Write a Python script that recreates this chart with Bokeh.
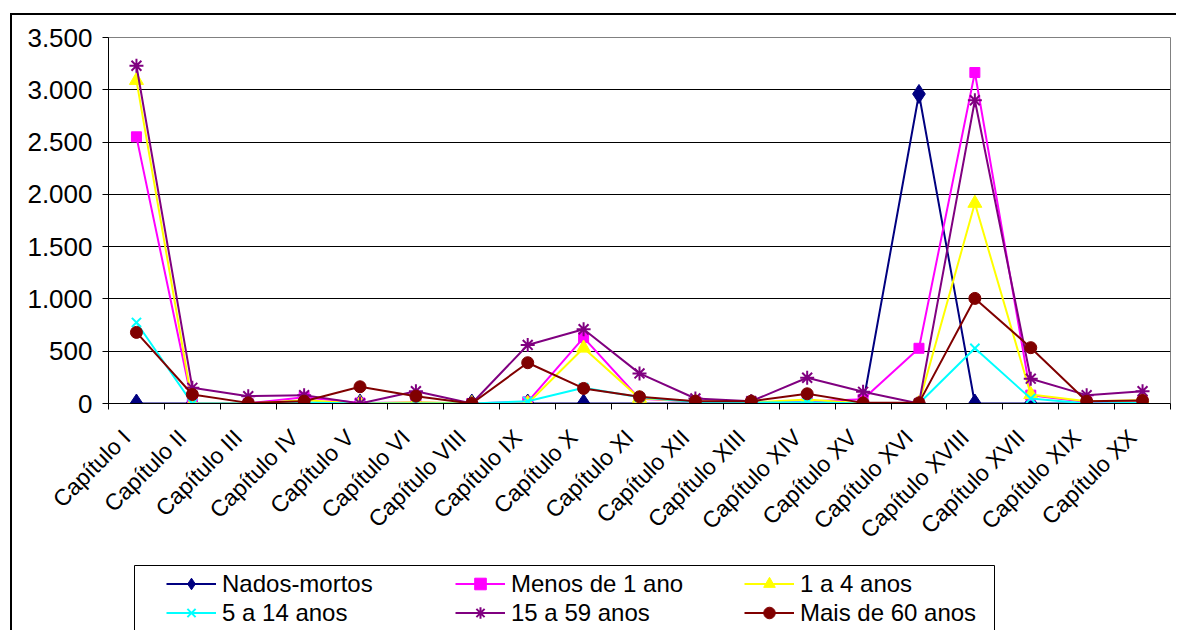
import math
from bokeh.plotting import figure
from bokeh.layouts import column
from bokeh.models import (ColumnDataSource, FixedTicker, Legend, LegendItem, Range1d, BoxAnnotation)
from bokeh.embed import file_html
from bokeh.resources import INLINE

categories = ["Capítulo I", "Capítulo II", "Capítulo III", "Capítulo IV", "Capítulo V",
              "Capítulo VI", "Capítulo VIII", "Capítulo IX", "Capítulo X", "Capítulo XI",
              "Capítulo XII", "Capítulo XIII", "Capítulo XIV", "Capítulo XV", "Capítulo XVI",
              "Capítulo XVIII", "Capítulo XVII", "Capítulo XIX", "Capítulo XX"]

nados_mortos = [0, 0, 0, 0, 0, 0, 0, 0, 0, 0, 0, 0, 0, 0, 2960, 0, 0, 0, 0]
menos_1_ano = [2550, 0, 0, 60, 5, 10, 0, 16, 630, 45, 20, 10, 20, 40, 528, 3165, 80, 15, 15]
de_1_a_4 = [3090, 0, 0, 30, 0, 13, 0, 0, 530, 50, 20, 10, 38, 0, 0, 1915, 86, 22, 32]
de_5_a_14 = [775, 0, 0, 10, 0, 0, 0, 22, 150, 60, 15, 10, 13, 0, 0, 528, 48, 0, 6]
de_15_a_59 = [3230, 150, 70, 80, 0, 118, 0, 560, 710, 288, 48, 22, 246, 112, 0, 2900, 237, 80, 118]
mais_60 = [680, 86, 6, 22, 160, 70, 0, 390, 144, 64, 22, 22, 93, 6, 6, 1005, 534, 22, 29]

series_names = ["Nados-mortos", "Menos de 1 ano", "1 a 4 anos", "5 a 14 anos", "15 a 59 anos", "Mais de 60 anos"]
y_ticks = [0, 500, 1000, 1500, 2000, 2500, 3000, 3500]

FONT = "Liberation Sans"
n = len(categories)
xs = [i + 0.5 for i in range(n)]
LABEL_SHIFT = 0.18   # rotated labels end slightly left of the category centre
label_pos = [x - LABEL_SHIFT for x in xs]

W, H = 1166, 545
BL, BR = 96, 8
p = figure(width=W, height=H, output_backend="svg", toolbar_location=None,
           x_range=Range1d(0, n), y_range=Range1d(0, 3500),
           min_border_left=BL, min_border_right=BR, min_border_top=22, min_border_bottom=157)
p.margin = (13, 0, 0, 10)
p.styles = {"border-left": "2px solid black", "border-top": "2px solid black"}
p.background_fill_color = "white"
p.border_fill_color = "white"
p.outline_line_color = "#808080"
p.outline_line_width = 1

# axes
p.xaxis.ticker = FixedTicker(ticks=label_pos, minor_ticks=list(range(n + 1)))
p.xaxis.major_label_overrides = {x: c for x, c in zip(label_pos, categories)}
p.xaxis.major_label_orientation = math.pi / 4
p.xaxis.major_tick_out = 0
p.xaxis.major_tick_in = 0
p.xaxis.minor_tick_out = 6
p.xaxis.minor_tick_in = 0
p.xaxis.minor_tick_line_color = "black"
p.xaxis.axis_line_color = "black"
p.xaxis.major_label_text_font = FONT
p.xaxis.major_label_text_font_size = "23px"
p.xaxis.major_label_text_color = "black"
p.xaxis.major_label_standoff = 24

p.yaxis.ticker = FixedTicker(ticks=y_ticks)
p.yaxis.major_label_overrides = {v: f"{v:,}".replace(",", ".") for v in y_ticks}
p.yaxis.major_tick_out = 6
p.yaxis.major_tick_in = 0
p.yaxis.minor_tick_out = 0
p.yaxis.minor_tick_in = 0
p.yaxis.axis_line_color = "black"
p.yaxis.major_tick_line_color = "black"
p.yaxis.major_label_text_font = FONT
p.yaxis.major_label_text_font_size = "26px"
p.yaxis.major_label_text_color = "black"
p.yaxis.major_label_standoff = 10

p.xgrid.visible = False
p.ygrid.ticker = FixedTicker(ticks=y_ticks[1:-1])
p.ygrid.grid_line_color = "black"
p.ygrid.grid_line_width = 1

styles = [
    dict(data=nados_mortos, color="#000080", marker="diamond", size=19, fill=True),
    dict(data=menos_1_ano, color="#FF00FF", marker="square", size=10, fill=True),
    dict(data=de_1_a_4, color="#FFFF00", marker="triangle", size=14, fill=True),
    dict(data=de_5_a_14, color="#00FFFF", marker="x", size=13, fill=False),
    dict(data=de_15_a_59, color="#800080", marker="asterisk", size=14, fill=False),
    dict(data=mais_60, color="#800000", marker="circle", size=12, fill=True),
]

# legend strip below the chart; its x range lies beyond the data, so the
# legend's glyph renderers draw nothing inside it (they only provide styling)
FW = W - BL - BR          # frame width in px
X0 = 100                  # x offset so that data (x < 19) stays off-frame
H2 = 72
p2 = figure(width=W, height=H2, output_backend="svg", toolbar_location=None,
            x_range=Range1d(X0, X0 + FW), y_range=Range1d(0, H2),
            x_axis_type=None, y_axis_type=None,
            min_border_left=BL, min_border_right=BR, min_border_top=0, min_border_bottom=0)
p2.margin = (0, 0, 0, 10)
p2.styles = {"border-left": "2px solid black"}
p2.grid.visible = False
p2.background_fill_color = "white"
p2.border_fill_color = "white"
p2.outline_line_color = None

items = []
for name, st in zip(series_names, styles):
    src = ColumnDataSource(dict(x=xs, y=st["data"]))
    kw = dict(line_color=st["color"], fill_color=st["color"] if st["fill"] else None,
              line_width=2 if not st["fill"] else 1)
    p.line("x", "y", source=src, line_color=st["color"], line_width=2)
    p.scatter("x", "y", source=src, marker=st["marker"], size=st["size"], **kw)
    ln2 = p2.line("x", "y", source=src, line_color=st["color"], line_width=2)
    sc2 = p2.scatter("x", "y", source=src, marker=st["marker"], size=st["size"], **kw)
    items.append(LegendItem(label=name, renderers=[ln2, sc2]))

# legend box (frame-pixel coordinates of this strip)
box = BoxAnnotation(left=X0 + 26, right=X0 + 886, bottom=-20, top=65,
                    fill_alpha=0, line_color="black", line_width=1, line_alpha=1)
p2.add_layout(box)

legend = Legend(items=items, orientation="horizontal", ncols=3,
                location=(58, 3), glyph_width=50, glyph_height=29,
                label_width=233, label_height=29, label_standoff=6, spacing=0,
                padding=0, margin=0,
                label_text_font=FONT, label_text_font_size="24px", label_text_color="black",
                border_line_color=None, background_fill_alpha=0)
p2.add_layout(legend, "center")

layout = column(p, p2, spacing=0)
open("out.html", "w").write(file_html(layout, INLINE))
